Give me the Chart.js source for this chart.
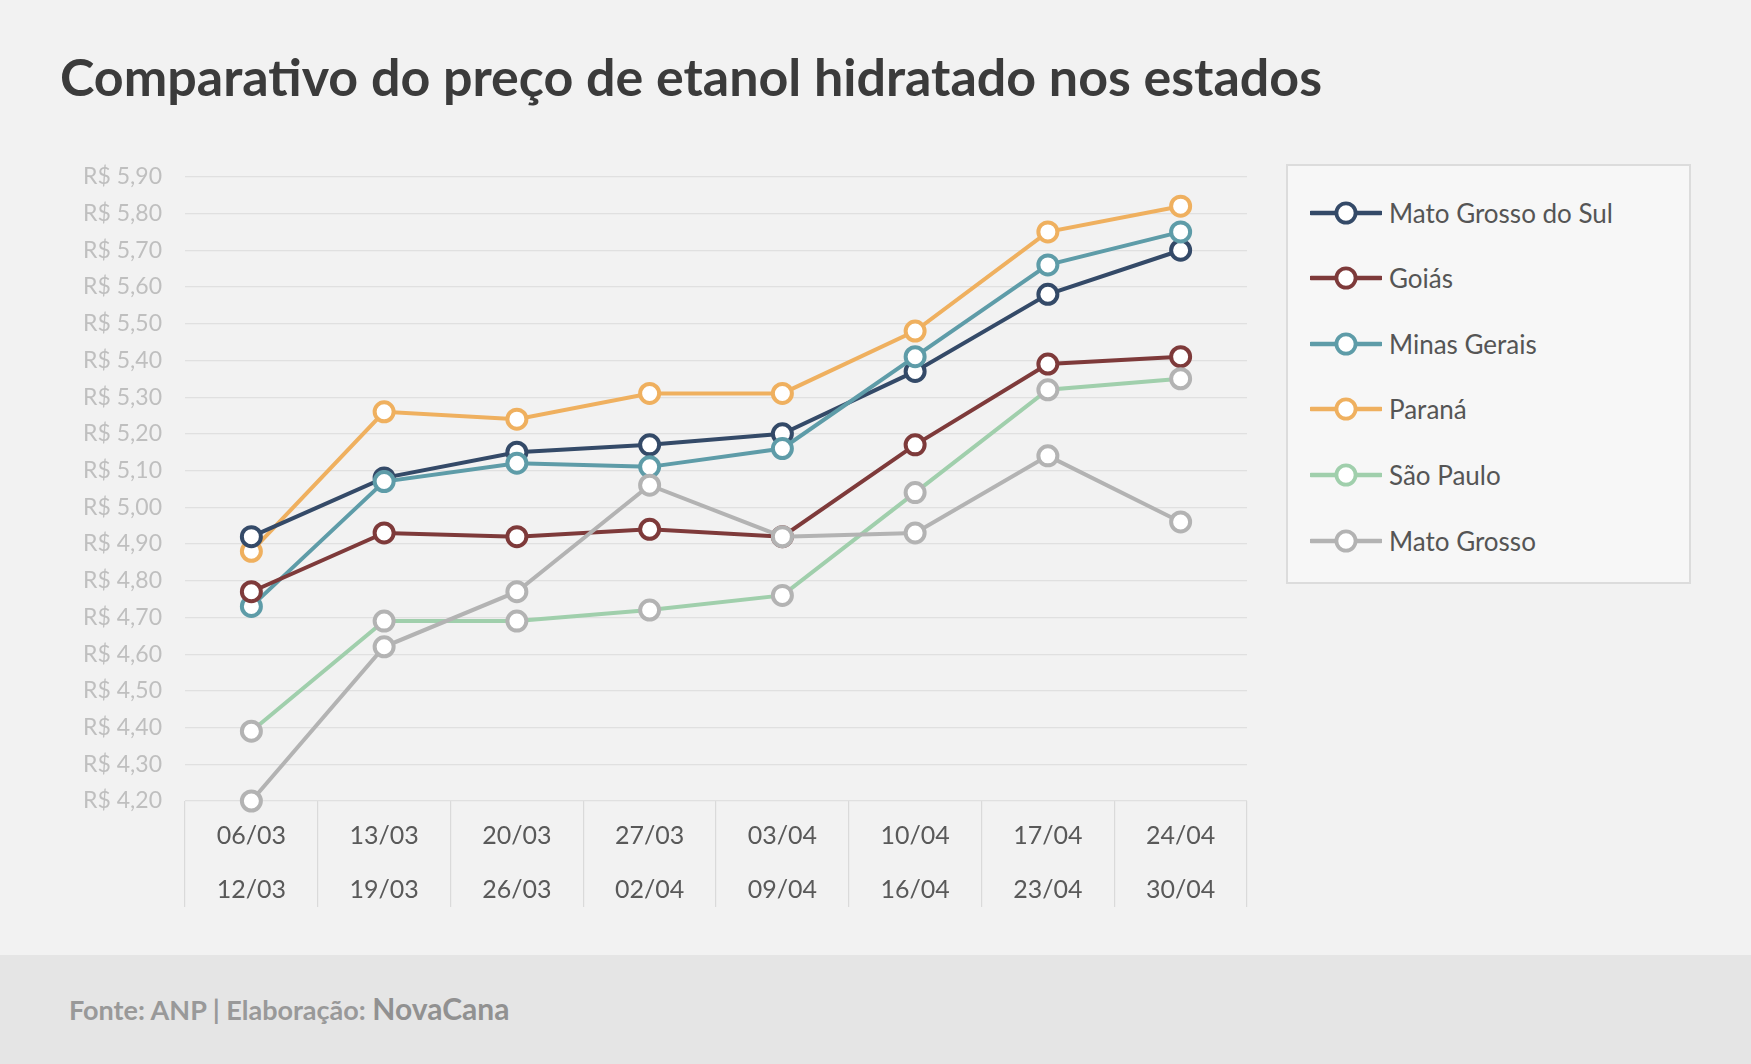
<!DOCTYPE html>
<html lang="pt-BR">
<head>
<meta charset="utf-8">
<title>Comparativo do preço de etanol hidratado nos estados</title>
<script src="https://cdn.jsdelivr.net/npm/chart.js@4.4.0/dist/chart.umd.min.js"></script>
<style>
  html, body { margin: 0; padding: 0; }
  body {
    width: 1751px; height: 1064px; position: relative; overflow: hidden;
    background: #f2f2f2; font-family: Lato, "Open Sans", sans-serif;
  }
  #title {
    position: absolute; left: 60px; top: 45px; margin: 0;
    font-size: 52px; line-height: 62px; font-weight: 700; color: #3b3b3b; white-space: nowrap;
  }
  #chartBox { position: absolute; left: 0; top: 140px; width: 1270px; height: 800px; }
  #legend {
    position: absolute; left: 1286px; top: 164px; width: 405px; height: 420px;
    box-sizing: border-box; border: 2.5px solid #dcdcdc; background: #f7f7f7;
  }
  .item {
    position: absolute; left: 22px; height: 40px; display: flex; align-items: center;
    font-size: 26px; color: #555; white-space: nowrap;
  }
  .item svg { margin-right: 7px; }
  #footer { position: absolute; left: 0; top: 955px; width: 1751px; height: 109px; background: #e5e5e5; }
  #source {
    position: absolute; left: 69px; top: 35px; color: #999; font-weight: 700; font-size: 27px; white-space: nowrap;
  }
  #source span { font-size: 30px; color: #919191; }
</style>
</head>
<body>
<h1 id="title">Comparativo do preço de etanol hidratado nos estados</h1>
<div id="chartBox"><canvas id="ethanolChart"></canvas></div>
<div id="legend"></div>
<div id="footer"><div id="source">Fonte: ANP | Elaboração: <span>NovaCana</span></div></div>

<script>
// semanas de coleta (início / fim)
const weeks = [
  ['06/03', '12/03'], ['13/03', '19/03'], ['20/03', '26/03'], ['27/03', '02/04'],
  ['03/04', '09/04'], ['10/04', '16/04'], ['17/04', '23/04'], ['24/04', '30/04']
];
const states = ['Mato Grosso do Sul', 'Goiás', 'Minas Gerais', 'Paraná', 'São Paulo', 'Mato Grosso'];

// preço médio do etanol hidratado (R$/litro)
const matoGrossoDoSul = [4.92, 5.08, 5.15, 5.17, 5.20, 5.37, 5.58, 5.70];
const goias = [4.77, 4.93, 4.92, 4.94, 4.92, 5.17, 5.39, 5.41];
const minasGerais = [4.73, 5.07, 5.12, 5.11, 5.16, 5.41, 5.66, 5.75];
const parana = [4.88, 5.26, 5.24, 5.31, 5.31, 5.48, 5.75, 5.82];
const saoPaulo = [4.39, 4.69, 4.69, 4.72, 4.76, 5.04, 5.32, 5.35];
const matoGrosso = [4.20, 4.62, 4.77, 5.06, 4.92, 4.93, 5.14, 4.96];

const yMin = 4.2;
const yMax = 5.9;
const yStep = 0.1;

const seriesValues = [matoGrossoDoSul, goias, minasGerais, parana, saoPaulo, matoGrosso];

// estilos
const lineColors = ['#344a68', '#7e3a3a', '#5e9ca8', '#efb05f', '#a0cfac', '#b3b3b3'];
const markerColors = ['#344a68', '#7e3a3a', '#5e9ca8', '#efb05f', '#b3b3b3', '#b3b3b3'];
const drawOrder = [4, 2, 3, 5, 1, 0];

function brl(v) {
    return 'R$ ' + Number(v).toFixed(2).replace('.', ',');
}

function buildLegend() {
    const box = document.getElementById('legend');
    states.forEach((name, i) => {
        const item = document.createElement('div');
        item.className = 'item';
        item.style.top = (46.5 + i * 65.6 - 20) + 'px';
        item.innerHTML =
            '<svg width="72" height="28" viewBox="0 0 72 28">' +
            '<line x1="1" y1="14" x2="71" y2="14" stroke="' + lineColors[i] + '" stroke-width="4.5" stroke-linecap="round"/>' +
            '<circle cx="36" cy="14" r="9.6" fill="#fff" stroke="' + lineColors[i] + '" stroke-width="3.8"/>' +
            '</svg>';
        const label = document.createElement('span');
        label.textContent = name;
        item.appendChild(label);
        box.appendChild(item);
    });
}

function drawChart() {
    const ctx = document.getElementById('ethanolChart').getContext('2d');
    new Chart(ctx, {
        type: 'line',
        data: {
            labels: weeks,
            datasets: states.map((name, i) => ({
                label: name,
                data: seriesValues[i],
                order: drawOrder[i],
                borderColor: lineColors[i],
                borderWidth: 4,
                pointRadius: 9.5,
                pointBorderWidth: 4,
                pointBackgroundColor: '#ffffff',
                pointBorderColor: markerColors[i],
                tension: 0,
                fill: false,
                clip: false
            }))
        },
        options: {
            responsive: true,
            maintainAspectRatio: false,
            animation: false,
            events: [],
            layout: { padding: { left: 0, right: 23, top: 31, bottom: 33 } },
            plugins: {
                legend: { display: false },
                tooltip: { enabled: false }
            },
            scales: {
                x: {
                    offset: true,
                    border: { display: false },
                    grid: {
                        offset: true,
                        drawOnChartArea: false,
                        drawTicks: true,
                        tickLength: 106,
                        color: '#dadada',
                        lineWidth: 1.2
                    },
                    ticks: {
                        autoSkip: false,
                        maxRotation: 0,
                        padding: -98,
                        color: '#595959',
                        font: { family: 'Lato', size: 25, lineHeight: '54px' }
                    },
                    afterFit: (scale) => { scale.height = 106; }
                },
                y: {
                    min: yMin,
                    max: yMax,
                    border: { display: false },
                    grid: { color: '#e0e0e0', lineWidth: 1.2, drawTicks: false },
                    ticks: {
                        stepSize: yStep,
                        padding: 23,
                        color: '#bfbfbf',
                        font: { family: 'Lato', size: 23 },
                        callback: (v) => brl(v)
                    },
                    afterFit: (scale) => { scale.width = 185; }
                }
            }
        }
    });
}

buildLegend();
drawChart();
</script>
</body>
</html>
